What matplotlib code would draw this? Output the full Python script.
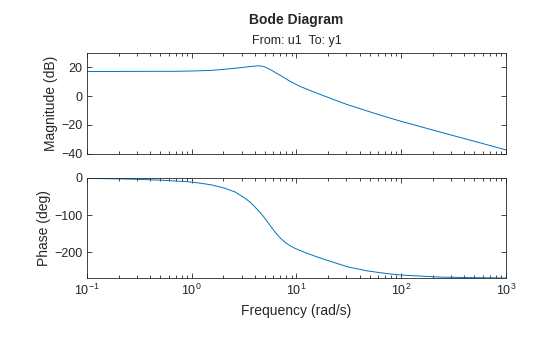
import matplotlib
matplotlib.use("Agg")
import matplotlib.pyplot as plt
from matplotlib.ticker import LogLocator, NullFormatter, FixedLocator

plt.rcParams['font.family'] = ['Liberation Sans', 'DejaVu Sans']

# magnitude readings (rad/s, dB)
mag_freq = [0.1, 0.2, 0.5, 0.7, 1.0, 1.5, 2.0, 2.9, 3.5, 4.2, 4.6, 5.0, 5.7, 6.5,
            7.0, 8.7, 10.8, 14.5, 21, 30, 43.5, 62.7, 100, 157, 272, 525, 1000]
mag_db = [17.2, 17.2, 17.3, 17.3, 17.5, 17.9, 18.6, 19.8, 20.5, 21.1, 21.0, 20.3, 18.3, 15.8,
          14.5, 10.3, 6.8, 3.0, -1.5, -5.7, -9.5, -13.2, -17.6, -21.5, -26.3, -31.9, -37.5]

# phase readings (rad/s, deg)
ph_freq = [0.1, 0.2, 0.3, 0.5, 0.9, 1.2, 1.56, 2.08, 2.6, 3.2, 3.6, 4.0, 4.5, 5.0, 5.6, 6.2,
           7.0, 7.8, 8.7, 9.7, 12, 15, 20, 31, 48, 75, 100, 234, 500, 1000]
ph_deg = [-1.2, -2.5, -3.7, -6, -10, -14, -19, -28, -38, -54, -65, -78, -93, -109, -128, -145,
          -162, -174, -183, -190, -201, -211, -223, -240, -251, -258.5, -262, -267.5, -269, -270]

line_color = '#0072BD'
txt = '#262626'

fig = plt.figure(figsize=(5.6, 3.37), dpi=100)
ax1 = fig.add_axes([0.1554, 0.5445, 0.748, 0.298])
ax2 = fig.add_axes([0.1554, 0.175, 0.748, 0.297])

ax1.semilogx(mag_freq, mag_db, color=line_color, lw=0.7)
ax2.semilogx(ph_freq, ph_deg, color=line_color, lw=0.7)

for ax in (ax1, ax2):
    ax.set_xlim(0.1, 1000)
    ax.xaxis.set_major_locator(LogLocator(base=10, numticks=10))
    ax.xaxis.set_minor_locator(LogLocator(base=10, subs=range(2, 10), numticks=20))
    ax.xaxis.set_minor_formatter(NullFormatter())
    ax.tick_params(which='both', direction='in', top=True, right=True,
                   color=txt, labelcolor=txt, labelsize=9, width=0.6)
    ax.tick_params(which='major', length=3.5)
    ax.tick_params(which='minor', length=2)
    for s in ax.spines.values():
        s.set_linewidth(0.6)
        s.set_color(txt)

ax1.set_ylim(-40, 30)
ax1.yaxis.set_major_locator(FixedLocator([-40, -20, 0, 20]))
ax1.xaxis.set_major_formatter(NullFormatter())
ax2.set_ylim(-270, 0)
ax2.yaxis.set_major_locator(FixedLocator([-200, -100, 0]))

ax1.set_ylabel('Magnitude (dB)', fontsize=10, color=txt, labelpad=2)
ax2.set_ylabel('Phase (deg)', fontsize=10, color=txt, labelpad=2)
ax2.set_xlabel('Frequency (rad/s)', fontsize=10, color=txt, labelpad=4)

fig.text(0.5295, 0.94, 'Bode Diagram', ha='center', va='center',
         fontsize=10, fontweight='bold', color=txt)
fig.text(0.5295, 0.878, 'From: u1  To: y1', ha='center', va='center',
         fontsize=9, color=txt)

fig.savefig('out.png', dpi=100)
